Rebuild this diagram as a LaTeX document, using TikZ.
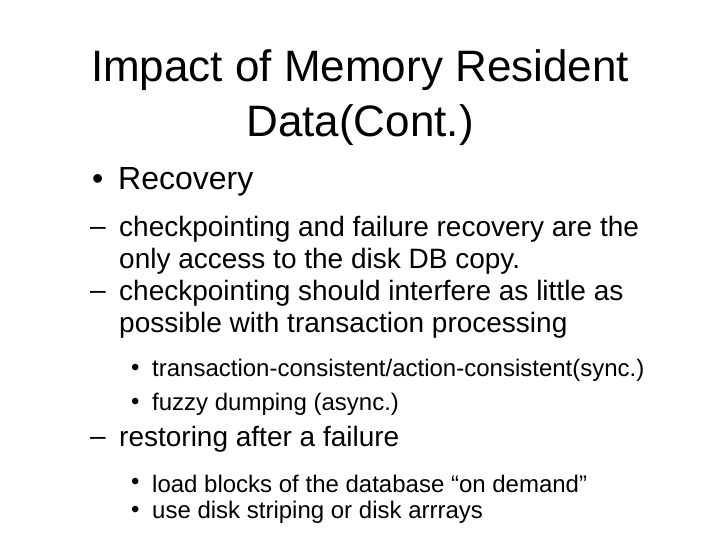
\documentclass[tikz,border=0pt]{standalone}
\usepackage{fontspec}
\setmainfont{Liberation Sans}
\begin{document}
\begin{tikzpicture}[x=1pt,y=-1pt,
  t/.style={anchor=west,inner sep=0pt},
  ti/.style={anchor=center,inner sep=0pt,font=\fontsize{44}{48}\selectfont},
  l1/.style={t,font=\fontsize{32}{36}\selectfont},
  l2/.style={t,font=\fontsize{28}{32}\selectfont},
  l3/.style={t,font=\fontsize{24}{28}\selectfont}]
\useasboundingbox (0,0) rectangle (720,540);
\node[ti] (t1) at (360,70) {Impact of Memory Resident};
\node[ti] (t2) at (360,125) {Data(Cont.)};
\node[l1] (b1) at (92,182) {•};
\node[l1] (r) at (118,182) {Recovery};
\node[l2] (d1) at (90,231) {–};
\node[l2] (a1) at (119,229) {checkpointing and failure recovery are the};
\node[l2] (a2) at (119,261) {only access to the disk DB copy.};
\node[l2] (d2) at (90,295) {–};
\node[l2] (a3) at (119,293) {checkpointing should interfere as little as};
\node[l2] (a4) at (119,325) {possible with transaction processing};
\node[l3] (e1) at (131,370) {•};
\node[l3] (c1) at (152,370) {transaction-consistent/action-consistent(sync.)};
\node[l3] (e2) at (131,404) {•};
\node[l3] (c2) at (152,404) {fuzzy dumping (async.)};
\node[l2] (d3) at (90,441) {–};
\node[l2] (a5) at (119,439) {restoring after a failure};
\node[l3] (e3) at (131,484) {•};
\node[l3] (c3) at (152,484) {load blocks of the database “on demand”};
\node[l3] (e4) at (131,512) {•};
\node[l3] (c4) at (152,512) {use disk striping or disk arrrays};
\end{tikzpicture}
\end{document}
